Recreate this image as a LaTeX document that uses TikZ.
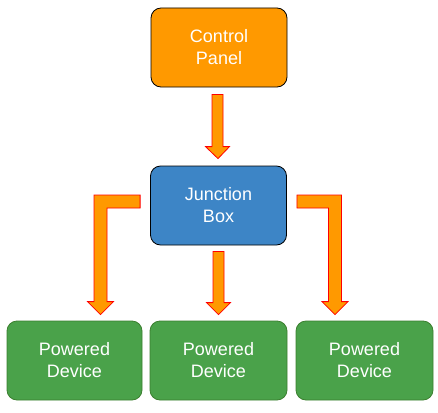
\documentclass[tikz,border=0pt]{standalone}
\usepackage{fontspec}
\setmainfont{Liberation Sans}
\usetikzlibrary{calc}
\definecolor{panelorange}{HTML}{FF9900}
\definecolor{boxblue}{HTML}{3D85C6}
\definecolor{devgreen}{HTML}{4AA24A}
\definecolor{devline}{HTML}{3B7F2F}

% straight block arrow: from top of shaft (#1) to tip (#2)
\newcommand{\fatdown}[2]{%
  \draw[fatarrow] let \p1=(#1), \p2=(#2) in
    (\x1-5.5pt,\y1) -- (\x1+5.5pt,\y1) -- (\x1+5.5pt,\y2+12pt) -- (\x1+12pt,\y2+12pt)
    -- (\x2,\y2) -- (\x1-12pt,\y2+12pt) -- (\x1-5.5pt,\y2+12pt) -- cycle;}
% bent block arrow: start (#1), tip (#2), side #3 (-1 left, 1 right)
\newcommand{\fatbent}[3]{%
  \draw[fatarrow] let \p1=(#1), \p2=(#2) in
    (\x1,\y1+6.5pt) -- (\x2+#3*6.5pt,\y1+6.5pt) -- (\x2+#3*6.5pt,\y2+13pt)
    -- (\x2+#3*13pt,\y2+13pt) -- (\x2,\y2) -- (\x2-#3*13pt,\y2+13pt)
    -- (\x2-#3*6.5pt,\y2+13pt) -- (\x2-#3*6.5pt,\y1-6.5pt) -- (\x1,\y1-6.5pt) -- cycle;}

\begin{document}
\begin{tikzpicture}[x=1pt, y=-1pt,
    block/.style={rectangle, rounded corners=10pt, minimum width=136pt, minimum height=79pt,
      align=center, text=white, line width=0.8pt,
      font=\fontsize{18}{22}\selectfont},
    fatarrow/.style={fill=panelorange, draw=red, line width=0.8pt, line join=miter}]
	\useasboundingbox (0,0) rectangle (438,412);
	\node[block, fill=panelorange, draw=black] (panel) at (219,47.5) {Control\\Panel};
	\node[block, fill=boxblue, draw=black] (junction) at (218.5,205.5) {Junction\\Box};
	\node[block, fill=devgreen, draw=devline, minimum width=135pt] (dev1) at (74.5,360.5) {Powered\\Device};
	\node[block, fill=devgreen, draw=devline, minimum width=137pt] (dev2) at (218.5,360.5) {Powered\\Device};
	\node[block, fill=devgreen, draw=devline, minimum width=137pt] (dev3) at (364.5,360.5) {Powered\\Device};
	\coordinate (s1) at ($(panel.south)+(-1.5,7)$);
	\coordinate (t1) at ($(junction.north)+(-0.5,-7)$);
	\coordinate (s2) at ($(junction.south)+(0,6)$);
	\coordinate (t2) at ($(dev2.north)+(0,-6)$);
	\coordinate (sl) at ($(junction.west)+(-10,-4)$);
	\coordinate (tl) at ($(dev1.north)+(26,-6)$);
	\coordinate (sr) at ($(junction.east)+(10,-4)$);
	\coordinate (tr) at ($(dev3.north)+(-29.5,-6)$);
	\fatdown{s1}{t1}
	\fatdown{s2}{t2}
	\fatbent{sl}{tl}{-1}
	\fatbent{sr}{tr}{1}
\end{tikzpicture}
\end{document}
